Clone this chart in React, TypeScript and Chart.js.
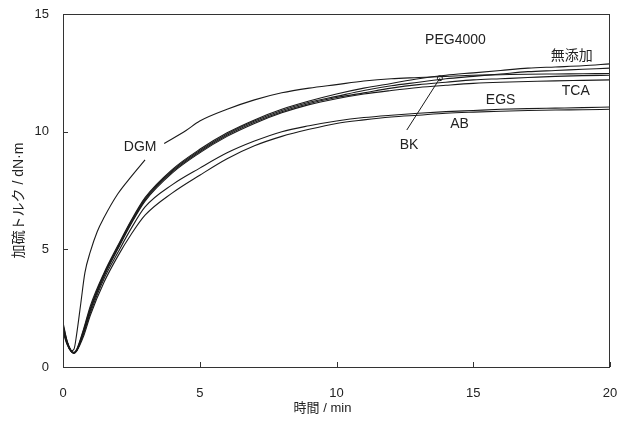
import React, { useEffect, useRef } from "react";
import { Chart, registerables } from "chart.js";

Chart.register(...registerables);

// ---- data (time in min, torque in dN·m) ----
const timeMin = [0, 0.15, 0.3, 0.4, 0.5, 0.75, 1, 1.5, 2, 2.5, 3, 4, 5, 6, 7, 8, 9, 10, 11, 12, 13, 14, 15, 16, 17, 18, 19, 20];
const peg4000 = [1.8, 1.1, 0.7, 0.62, 0.75, 1.6, 2.6, 4.0, 5.15, 6.25, 7.2, 8.4, 9.25, 9.95, 10.5, 10.95, 11.3, 11.6, 11.85, 12.05, 12.25, 12.4, 12.5, 12.6, 12.7, 12.75, 12.8, 12.88];
const mutenka = [1.7, 1.05, 0.68, 0.6, 0.72, 1.55, 2.5, 3.95, 5.1, 6.2, 7.15, 8.35, 9.2, 9.9, 10.45, 10.9, 11.25, 11.5, 11.75, 11.95, 12.1, 12.25, 12.35, 12.45, 12.55, 12.6, 12.65, 12.7];
const tca = [1.6, 1.0, 0.66, 0.6, 0.7, 1.5, 2.45, 3.9, 5.05, 6.15, 7.1, 8.3, 9.15, 9.85, 10.4, 10.85, 11.2, 11.45, 11.65, 11.85, 12.0, 12.1, 12.2, 12.25, 12.3, 12.35, 12.38, 12.4];
const bk = [1.5, 0.95, 0.65, 0.58, 0.68, 1.45, 2.4, 3.85, 5.0, 6.1, 7.05, 8.25, 9.1, 9.8, 10.35, 10.8, 11.15, 11.4, 11.6, 11.75, 11.88, 11.97, 12.05, 12.1, 12.13, 12.16, 12.18, 12.2];
const egs = [1.7, 1.05, 0.68, 0.6, 0.7, 1.4, 2.3, 3.75, 4.85, 5.9, 6.8, 7.75, 8.45, 9.1, 9.6, 10.0, 10.25, 10.45, 10.6, 10.7, 10.78, 10.85, 10.9, 10.95, 10.98, 11.0, 11.02, 11.05];
const ab = [1.6, 1.0, 0.66, 0.6, 0.68, 1.3, 2.2, 3.6, 4.7, 5.65, 6.45, 7.4, 8.15, 8.85, 9.4, 9.8, 10.1, 10.35, 10.5, 10.62, 10.7, 10.78, 10.83, 10.87, 10.9, 10.92, 10.93, 10.95];
const dgmTime = [0, 0.15, 0.3, 0.4, 0.5, 0.65, 0.8, 1, 1.25, 1.5, 2, 2.5, 3, 3.35, 3.7, 4.5, 5, 6, 7, 8, 9, 10, 11, 12, 13, 14, 15, 16, 17, 18, 19, 20];
const dgm = [1.9, 1.1, 0.68, 0.75, 1.4, 2.7, 4.0, 4.9, 5.75, 6.35, 7.35, 8.1, 8.8, null, 9.5, 10.05, 10.45, 10.95, 11.35, 11.65, 11.85, 12.0, 12.15, 12.25, 12.3, 12.35, 12.4, 12.42, 12.44, 12.45, 12.46, 12.47];

const xTicks = [0, 5, 10, 15, 20];
const yTicks = [0, 5, 10, 15];

// curve labels in data coordinates
const labelText = ["PEG4000", "無添加", "TCA", "EGS", "AB", "BK", "DGM"];
const labelX = [14.35, 18.6, 18.75, 16.0, 14.5, 12.65, 2.82];
const labelY = [13.9, 13.2, 11.73, 11.35, 10.33, 9.43, 9.35];
// BK leader line (data coords)
const bkLeaderX = [12.57, 13.78];
const bkLeaderY = [10.07, 12.27];

const FONT = "'Liberation Sans', 'Noto Sans CJK JP', sans-serif";
const INK = "#1a1a1a";

const toPts = (xs: number[], ys: (number | null)[]) => xs.map((x, i) => ({ x, y: ys[i] }));

const annotPlugin = {
  id: "annot",
  afterDraw(chart: any) {
    const { ctx, chartArea: a, scales } = chart;
    const xs = scales.x;
    const ys = scales.y;
    ctx.save();
    // frame
    ctx.strokeStyle = "#333";
    ctx.lineWidth = 1;
    ctx.strokeRect(Math.round(a.left) + 0.5, Math.round(a.top) + 0.5, Math.round(a.right - a.left) - 1, Math.round(a.bottom - a.top));
    // inward ticks
    ctx.beginPath();
    yTicks.forEach((v) => {
      const py = Math.round(ys.getPixelForValue(v)) + 0.5;
      ctx.moveTo(a.left, py);
      ctx.lineTo(a.left + 5, py);
    });
    xTicks.forEach((v) => {
      const px = Math.round(xs.getPixelForValue(v)) + 0.5;
      ctx.moveTo(px, a.bottom);
      ctx.lineTo(px, a.bottom - 5);
    });
    ctx.stroke();

    // curve labels
    ctx.fillStyle = "#222";
    ctx.font = `14px ${FONT}`;
    ctx.textAlign = "center";
    ctx.textBaseline = "middle";
    labelText.forEach((t, i) => {
      ctx.fillText(t, xs.getPixelForValue(labelX[i]), ys.getPixelForValue(labelY[i]));
    });
    // BK leader
    ctx.strokeStyle = INK;
    ctx.lineWidth = 1;
    ctx.beginPath();
    ctx.moveTo(xs.getPixelForValue(bkLeaderX[0]), ys.getPixelForValue(bkLeaderY[0]));
    ctx.lineTo(xs.getPixelForValue(bkLeaderX[1]), ys.getPixelForValue(bkLeaderY[1]));
    ctx.stroke();
    ctx.beginPath();
    ctx.arc(xs.getPixelForValue(bkLeaderX[1]), ys.getPixelForValue(bkLeaderY[1]), 2.5, 0, Math.PI * 2);
    ctx.stroke();

    // axis titles
    ctx.fillStyle = "#222";
    ctx.font = `13px ${FONT}`;
    ctx.fillText("時間 / min", (a.left + a.right) / 2 - 14, a.bottom + 41);
    ctx.save();
    ctx.translate(19, (a.top + a.bottom) / 2 + 10);
    ctx.rotate(-Math.PI / 2);
    ctx.font = `14px ${FONT}`;
    ctx.fillText("加硫トルク / dN·m", 0, 0);
    ctx.restore();
    ctx.restore();
  },
};

export default function App() {
  const ref = useRef<HTMLCanvasElement | null>(null);
  useEffect(() => {
    if (!ref.current) return;
    const mk = (label: string, pts: any[]) => ({
      label,
      data: pts,
      borderColor: INK,
      borderWidth: 1.1,
      pointRadius: 0,
      fill: false,
      spanGaps: false,
      cubicInterpolationMode: "monotone" as const,
    });
    const chart = new Chart(ref.current, {
      type: "line",
      data: {
        datasets: [
          mk("PEG4000", toPts(timeMin, peg4000)),
          mk("無添加", toPts(timeMin, mutenka)),
          mk("TCA", toPts(timeMin, tca)),
          mk("BK", toPts(timeMin, bk)),
          mk("EGS", toPts(timeMin, egs)),
          mk("AB", toPts(timeMin, ab)),
          mk("DGM", toPts(dgmTime, dgm)),
        ],
      },
      options: {
        responsive: false,
        animation: false,
        layout: { padding: { left: 0, top: 14, right: 10, bottom: 0 } },
        plugins: { legend: { display: false }, tooltip: { enabled: false } },
        scales: {
          x: {
            type: "linear",
            min: 0,
            max: 20,
            afterBuildTicks: (s: any) => {
              s.ticks = xTicks.map((v) => ({ value: v }));
            },
            ticks: { padding: 19, color: "#222", font: { family: FONT, size: 13 } },
            grid: { display: true, drawOnChartArea: false, drawTicks: false },
            border: { display: false },
            afterFit: (s: any) => {
              s.height = 58;
              s.paddingLeft = 0;
              s.paddingRight = 0;
              s.paddingTop = 0;
              s.paddingBottom = 0;
            },
          },
          y: {
            type: "linear",
            min: 0,
            max: 15,
            afterBuildTicks: (s: any) => {
              s.ticks = yTicks.map((v) => ({ value: v }));
            },
            ticks: { padding: 14, color: "#222", font: { family: FONT, size: 13 } },
            grid: { display: true, drawOnChartArea: false, drawTicks: false },
            border: { display: false },
            afterFit: (s: any) => {
              s.width = 63;
              s.paddingLeft = 0;
              s.paddingRight = 0;
              s.paddingTop = 0;
              s.paddingBottom = 0;
            },
          },
        },
      },
      plugins: [annotPlugin],
    });
    return () => chart.destroy();
  }, []);
  return (
    <div style={{ position: "absolute", left: 0, top: 0, width: 620, height: 425, background: "#fff" }}>
      <canvas ref={ref} width={620} height={425} style={{ display: "block" }} />
    </div>
  );
}
